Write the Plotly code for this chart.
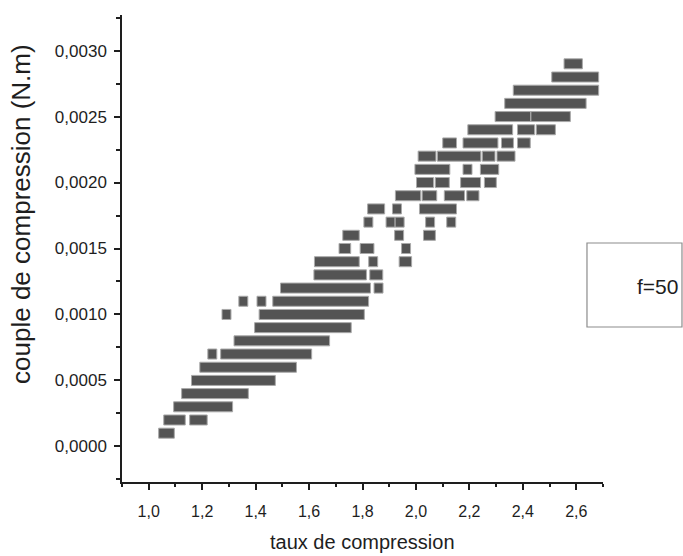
import plotly.graph_objects as go

# Couple de compression (N.m) pour chaque plage de mesures
couple = [
    0.0001,
    0.0002, 0.0002,
    0.0003,
    0.0004,
    0.0005,
    0.0006,
    0.0007, 0.0007,
    0.0008,
    0.0009,
    0.0010, 0.0010,
    0.0011, 0.0011, 0.0011,
    0.0012, 0.0012,
    0.0013, 0.0013,
    0.0014, 0.0014, 0.0014,
    0.0015, 0.0015, 0.0015,
    0.0016, 0.0016, 0.0016,
    0.0017, 0.0017, 0.0017, 0.0017, 0.0017,
    0.0018, 0.0018, 0.0018,
    0.0019, 0.0019, 0.0019, 0.0019,
    0.0020, 0.0020, 0.0020, 0.0020,
    0.0021, 0.0021, 0.0021,
    0.0022, 0.0022, 0.0022, 0.0022,
    0.0023, 0.0023, 0.0023, 0.0023,
    0.0024, 0.0024, 0.0024,
    0.0025, 0.0025,
    0.0026,
    0.0027,
    0.0028,
    0.0029,
]

# Taux de compression : premier et dernier point de chaque plage
taux_debut = [
    1.054,
    1.073, 1.170,
    1.110,
    1.140,
    1.177,
    1.208,
    1.238, 1.286,
    1.336,
    1.413,
    1.291, 1.430,
    1.354, 1.422, 1.481,
    1.510, 1.860,
    1.635, 1.844,
    1.637, 1.840, 1.954,
    1.729, 1.808, 1.963,
    1.743, 1.937, 2.045,
    1.822, 1.905, 1.939, 2.053, 2.132,
    1.836, 1.929, 2.030,
    1.940, 2.040, 2.123, 2.207,
    2.019, 2.089, 2.184, 2.273,
    2.013, 2.193, 2.258,
    2.025, 2.097, 2.265, 2.320,
    2.117, 2.193, 2.337, 2.397,
    2.211, 2.397, 2.467,
    2.313, 2.447,
    2.349,
    2.381,
    2.525,
    2.571,
]

taux_fin = [
    1.079,
    1.120, 1.202,
    1.297,
    1.356,
    1.457,
    1.536,
    1.238, 1.593,
    1.660,
    1.741,
    1.291, 1.790,
    1.354, 1.422, 1.806,
    1.813, 1.860,
    1.798, 1.859,
    1.771, 1.840, 1.967,
    1.739, 1.826, 1.963,
    1.771, 1.937, 2.056,
    1.822, 1.905, 1.939, 2.053, 2.132,
    1.866, 1.929, 2.135,
    2.001, 2.061, 2.165, 2.219,
    2.049, 2.108, 2.225, 2.284,
    2.110, 2.193, 2.293,
    2.058, 2.226, 2.279, 2.354,
    2.135, 2.290, 2.348, 2.411,
    2.345, 2.427, 2.505,
    2.412, 2.561,
    2.620,
    2.667,
    2.667,
    2.606,
]

# Square symbol footprint in axis units (half width along x, height along y)
MARK_HALF = 0.0168
MARK_H = 0.000076

TEXT = "#1e1e1e"
FONT = "Liberation Sans, Arial, sans-serif"

fig = go.Figure()
fig.add_trace(go.Bar(
    orientation="h",
    y=couple,
    base=[d - MARK_HALF for d in taux_debut],
    x=[f - d + 2 * MARK_HALF for d, f in zip(taux_debut, taux_fin)],
    width=MARK_H,
    marker=dict(color="#545454", line=dict(color="#a9a9a9", width=1)),
    showlegend=False,
    hoverinfo="skip",
))

axis_common = dict(
    showline=True, linecolor=TEXT, linewidth=1.5,
    ticks="outside", tickcolor=TEXT, tickwidth=1.5, ticklen=6,
    showgrid=False, zeroline=False, mirror=False,
)

fig.update_layout(
    width=683, height=556,
    margin=dict(l=122, r=80, t=15, b=74),
    paper_bgcolor="white", plot_bgcolor="white",
    separators=",.",
    barmode="overlay",
    font=dict(family=FONT, color=TEXT),
    xaxis=dict(
        range=[0.9, 2.7], tick0=1.0, dtick=0.2, tickformat=".1f",
        tickfont=dict(size=16), ticklabelstandoff=8,
        minor=dict(dtick=0.1, ticks="outside", ticklen=3, tickwidth=1.5, tickcolor=TEXT),
        **axis_common,
    ),
    yaxis=dict(
        range=[-0.00027, 0.00327], tick0=0, dtick=0.0005, tickformat=".4f",
        tickfont=dict(size=17), ticklabelstandoff=4,
        minor=dict(dtick=0.00025, ticks="outside", ticklen=4, tickwidth=1.5, tickcolor=TEXT),
        **axis_common,
    ),
    shapes=[dict(
        type="rect", xref="paper", yref="paper",
        x0=0.9667, x1=1.1642, y0=0.3319, y1=0.5118,
        line=dict(color="#8c8c8c", width=1.2), fillcolor="rgba(0,0,0,0)",
    )],
    annotations=[
        dict(text="f=50", xref="paper", yref="paper", x=1.160, y=0.4186,
             xanchor="right", yanchor="middle", showarrow=False,
             font=dict(size=21, color=TEXT)),
        dict(text="taux de compression", xref="paper", yref="paper", x=0.5, y=-0.1285,
             xanchor="center", yanchor="middle", showarrow=False,
             font=dict(size=20, color=TEXT)),
        dict(text="couple de compression (N.m)", xref="paper", yref="paper",
             x=-0.21, y=0.574, textangle=-90,
             xanchor="center", yanchor="middle", showarrow=False,
             font=dict(size=26, color=TEXT)),
    ],
)

fig.write_html("out.html")
